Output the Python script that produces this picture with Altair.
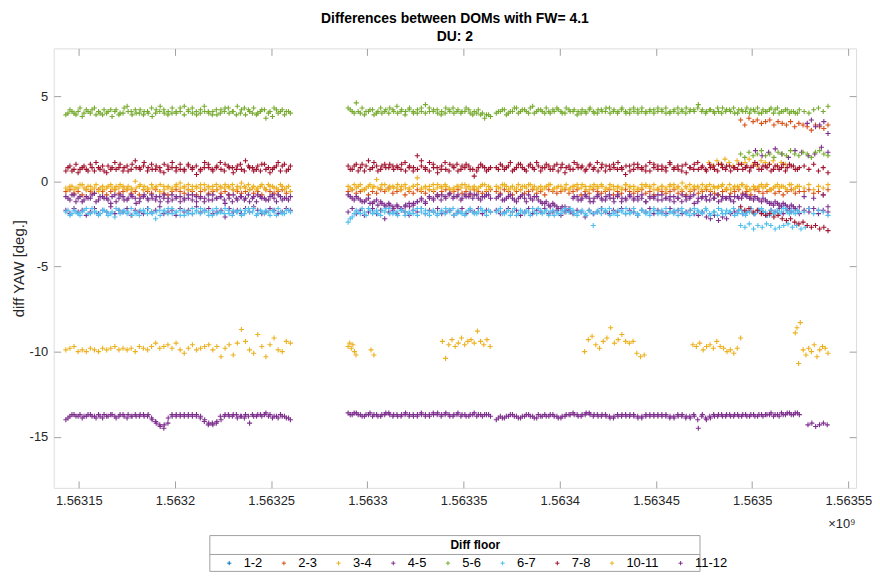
import altair as alt
import numpy as np
import pandas as pd

# ---------------- categories / colours ----------------
SERIES = ["1-2", "2-3", "3-4", "4-5", "5-6", "6-7", "7-8", "10-11", "11-12"]
COLORS = ["#0072BD", "#D95319", "#EDB120", "#7E2F8E", "#77AC30",
          "#4DBEEE", "#A2142F", "#EDB120", "#7E2F8E"]

X_TICKS = [1.56315, 1.5632, 1.56325, 1.5633, 1.56335, 1.5634, 1.56345, 1.5635, 1.56355]
Y_TICKS = [-15, -10, -5, 0, 5]

# ---------------- time segments (units of 1e9 s) ----------------
SEG_A = (1.5631433, 1.5632600)
SEG_B = (1.5632900, 1.5633640)
SEG_C = (1.5633670, 1.5635245)
SEG_D = (1.5635270, 1.5635394)
SEG_END = (1.5634940, 1.5635394)
# second read-out pass, interleaved between the first one
SEG_A2 = (1.5631444, 1.5632590)
SEG_B2 = (1.5632911, 1.5633630)
SEG_C2 = (1.5633681, 1.5635235)

# ---------------- 5-6 ----------------
g56_A = [3.9, 4.2, 4.0, 4.1, 3.8, 4.2, 4.0, 4.3, 4.1, 3.9, 4.0, 4.2, 4.1, 3.9, 4.0, 4.4, 4.1, 4.2, 4.0, 3.9,
         4.1, 4.3, 4.0, 4.1, 4.2, 3.9, 4.0, 4.1, 4.3, 4.4, 4.1, 4.0, 3.9, 4.2, 4.1, 4.0, 4.1, 3.9, 4.2, 4.3,
         4.0, 4.1, 4.4, 4.2, 3.9, 4.1, 4.3, 4.0, 4.2, 3.7, 4.1, 4.3, 4.0, 4.2, 4.1, 4.0]
g56_B = [4.3, 4.1, 4.6, 4.0, 3.9, 4.1, 4.2, 4.0, 4.3, 4.1, 4.0, 4.2, 4.4, 4.1, 3.9, 4.2, 4.1, 4.0, 4.3, 4.5,
         4.1, 4.2, 4.0, 4.1, 4.3, 4.1, 4.0, 4.2, 4.1, 4.3, 4.0, 4.1, 4.2, 4.0, 3.9, 3.8]
g56_C = [4.0, 4.1, 4.2, 4.0, 4.1, 4.3, 4.1, 4.2, 4.0, 4.4, 4.1, 4.2, 4.0, 4.1, 4.2, 4.3, 4.1, 4.0, 4.2, 4.1,
         3.9, 4.0, 4.1, 4.2, 4.1, 4.0, 4.2, 4.1, 4.3, 4.1, 4.0, 4.2, 4.1, 4.0, 4.3, 4.2, 4.1, 4.0, 4.1, 4.2,
         4.3, 4.1, 4.0, 4.1, 4.2, 4.0, 4.1, 4.3, 4.2, 4.1, 4.5, 4.2, 4.1, 4.2, 4.0, 4.1, 4.3, 4.2, 4.1, 4.0,
         4.2, 4.1, 4.3, 4.2, 4.1, 4.0, 4.2, 4.1, 4.3, 4.2, 4.0, 4.1, 4.2, 4.1, 4.0, 4.2]
g56_D = [4.1, 4.0, 4.2, 4.3, 4.1, 4.4]
g56_A2 = [4.0, 4.1, 3.9, 4.3, 4.0, 4.1, 4.2, 3.9, 4.0, 4.2, 4.1, 3.8, 4.2, 4.0, 4.3, 4.1, 3.9, 4.0, 4.2, 4.1,
          4.0, 3.8, 4.2, 4.4, 4.0, 4.1, 4.3, 4.0, 4.1, 3.9, 4.2, 4.3, 4.1, 4.0, 4.4, 4.1, 3.9, 4.2, 4.0, 4.1,
          4.3, 4.1, 3.9, 4.0, 4.3, 4.2, 4.0, 3.9, 4.1, 4.2, 4.0, 3.8, 4.2, 4.1, 3.9, 4.1]
g56_B2 = [4.2, 4.0, 4.1, 4.3, 4.1, 4.2, 3.9, 4.1, 4.0, 4.2, 4.3, 4.1, 4.0, 4.2, 4.1, 4.3, 4.0, 4.2, 4.1, 4.0,
          4.3, 4.1, 4.2, 3.9, 4.0, 4.2, 4.3, 4.1, 4.0, 4.1, 4.2, 3.9, 4.0, 3.9, 3.7, 3.9]
g56_C2 = [4.1, 4.2, 3.9, 4.1, 4.3, 4.0, 4.2, 4.1, 4.3, 4.0, 4.2, 4.1, 4.3, 4.0, 4.1, 4.2, 4.0, 4.3, 4.1, 4.2,
          4.1, 4.2, 4.0, 4.3, 4.0, 4.2, 4.1, 4.3, 4.0, 4.2, 4.1, 4.3, 4.0, 4.2, 4.1, 4.0, 4.3, 4.1, 4.2, 4.0,
          4.1, 4.2, 4.3, 4.0, 4.1, 4.3, 4.2, 4.0, 4.1, 4.2, 4.3, 4.1, 4.0, 4.2, 4.1, 4.3, 4.0, 4.1, 4.2, 4.3,
          4.0, 4.2, 4.1, 4.0, 4.2, 4.3, 4.0, 4.1, 4.2, 4.0, 4.3, 4.1, 4.2, 4.0, 4.1, 4.0]
g56_END = [1.6, 1.4, 1.7, 1.5, 1.6, 1.8, 1.5, 1.6, 1.4, 1.7, 1.6, 1.5, 1.8, 1.6, 1.5, 1.7, 1.6, 1.4, 1.7, 1.8,
           1.6, 1.5]

# ---------------- 7-8 ----------------
r78_A = [0.6, 0.9, 0.7, 0.5, 0.8, 0.7, 1.0, 0.6, 0.8, 0.9, 0.5, 0.7, 1.1, 0.8, 0.6, 0.9, 0.7, 1.2, 0.8, 0.9,
         0.6, 1.0, 0.7, 0.8, 0.5, 0.9, 0.8, 0.6, 1.0, 0.7, 0.9, 0.8, 0.4, 0.7, 1.1, 0.8, 0.6, 0.9, 0.7, 1.0,
         0.8, 0.5, 0.9, 0.7, 1.2, 0.8, 0.6, 0.9, 1.0, 0.7, 0.5, 0.8, 1.1, 0.9, 0.6, 0.9]
r78_B = [0.9, 0.7, 1.0, 0.8, 0.6, 1.2, 0.8, 0.9, 0.7, 1.0, 0.8, 0.9, 0.9, 0.7, 1.1, 0.8, 0.6, 1.5, 0.9, 0.7,
         1.1, 0.8, 0.5, 0.9, 0.7, 1.0, 0.8, 0.6, 0.9, 1.0, 0.7, 0.3, 0.8, 0.9, 0.6, 0.8]
r78_C = [0.8, 1.0, 0.7, 0.9, 0.6, 0.8, 1.0, 0.7, 0.9, 0.8, 1.1, 0.6, 0.8, 0.9, 0.7, 1.0, 0.8, 0.5, 0.9, 0.7,
         1.0, 0.8, 0.6, 0.9, 0.7, 1.1, 0.8, 0.6, 0.9, 1.0, 0.7, 0.8, 0.4, 0.9, 0.7, 1.0, 0.8, 0.6, 1.1, 0.8,
         0.7, 0.9, 0.6, 1.0, 0.8, 0.7, 0.9, 0.5, 0.8, 1.0, 0.7, 0.9, 0.6, 0.8, 0.7, 1.0, 0.8, 0.9, 0.6, 0.8,
         1.0, 0.7, 0.9, 0.8, 1.1, 0.7, 0.9, 0.8, 0.6, 0.9, 0.7, 1.0, 0.8, 0.9, 0.7, 0.8]
r78_D = [0.9, 0.7, 1.0, 0.6, 0.8, 0.5]
r78_A2 = [0.8, 0.6, 1.0, 0.7, 0.9, 0.6, 0.8, 1.1, 0.7, 0.6, 0.9, 0.8, 0.7, 1.0, 0.8, 0.6, 1.0, 0.8, 0.7, 1.1,
          0.8, 0.7, 0.9, 0.6, 1.0, 0.7, 1.1, 0.8, 0.7, 0.6, 1.0, 0.7, 0.9, 0.6, 0.8, 1.0, 0.7, 0.8, 1.1, 0.6,
          0.9, 0.8, 0.7, 1.0, 0.6, 0.9, 0.8, 0.7, 0.6, 1.0, 0.8, 0.7, 0.9, 0.6, 1.0, 0.7]
r78_B2 = [0.7, 0.9, 0.6, 1.0, 0.9, 0.7, 1.1, 0.6, 0.9, 0.8, 1.0, 0.7, 0.8, 1.0, 0.6, 0.9, 0.8, 0.7, 1.2, 0.8,
          0.6, 1.0, 0.8, 0.7, 1.1, 0.6, 0.9, 1.0, 0.7, 0.8, 0.9, 0.7, 0.6, 1.0, 0.8, 0.7]
r78_C2 = [0.7, 0.9, 0.8, 1.1, 0.7, 1.0, 0.8, 0.6, 1.0, 0.7, 0.9, 0.8, 1.0, 0.7, 0.9, 0.6, 1.0, 0.8, 0.7, 1.1,
          0.8, 0.9, 0.7, 1.0, 0.8, 0.6, 1.0, 0.9, 0.7, 0.8, 1.1, 0.7, 0.9, 0.6, 1.0, 0.8, 0.7, 0.9, 0.6, 1.0,
          0.9, 0.7, 0.8, 1.1, 0.7, 0.9, 0.6, 1.0, 0.8, 0.7, 1.1, 0.8, 0.7, 1.0, 0.9, 0.6, 1.0, 0.7, 0.9, 0.8,
          0.7, 1.0, 0.8, 0.6, 0.9, 1.0, 0.7, 0.9, 1.0, 0.7, 0.9, 0.8, 0.6, 1.0, 0.9, 0.7]
r78_END = [-1.5, -1.7, -1.6, -1.8, -1.7, -1.9, -2.0, -1.9, -2.1, -2.0, -2.2, -2.3, -2.2, -2.4, -2.5, -2.4,
           -2.6, -2.7, -2.6, -2.8, -2.7, -2.9]

# ---------------- 3-4 ----------------
y34_A = [-0.4, -0.3, -0.5, -0.4, -0.2, -0.5, -0.3, -0.4, -0.6, -0.3, -0.4, -0.2, -0.5, -0.4, -0.3, -0.5,
         -0.4, 0.0, -0.3, -0.5, -0.4, -0.2, -0.4, -0.6, -0.3, -0.4, -0.5, -0.3, -0.1, -0.4, -0.5, -0.3,
         -0.4, -0.2, -0.5, -0.4, -0.3, -0.5, -0.4, -0.2, -0.4, -0.5, -0.3, -0.1, -0.4, -0.5, -0.3, -0.4,
         -0.2, -0.5, -0.3, -0.4, -0.5, -0.3, -0.4, -0.6]
y34_B = [-0.3, -0.5, -0.4, -0.2, -0.5, -0.3, -0.4, 0.1, -0.4, -0.2, -0.5, -0.3, -0.4, -0.5, -0.2, -0.4,
         -0.3, 0.2, -0.5, -0.4, -0.3, -0.5, -0.2, -0.4, -0.3, -0.5, -0.4, -0.3, -0.2, -0.4, -0.5, -0.3,
         -0.4, -0.2, -0.5, -0.4]
y34_C = [-0.3, -0.4, -0.2, -0.5, -0.3, -0.4, -0.5, -0.3, -0.2, -0.4, -0.5, -0.3, -0.4, -0.2, -0.5, -0.4,
         -0.3, -0.4, -0.5, -0.3, -0.2, -0.4, -0.3, -0.5, -0.4, -0.3, -0.2, -0.5, -0.4, -0.3, -0.4, -0.5,
         -0.2, -0.4, -0.3, -0.5, -0.4, -0.2, -0.3, -0.5, -0.4, -0.3, -0.5, -0.2, -0.4, -0.3, -0.1, -0.4,
         -0.5, -0.3, -0.4, -0.2, -0.3, -0.5, -0.4, -0.3, -0.2, -0.4, -0.5, -0.3, -0.4, -0.2, -0.3, -0.5,
         -0.4, -0.3, -0.4, -0.2, -0.5, -0.3, -0.4, -0.3, -0.5, -0.2, -0.4, -0.3]
y34_D = [-0.4, -0.2, -0.5, -0.3, -0.4, -0.2]
y34_A2 = [-0.5, -0.3, -0.4, -0.2, -0.4, -0.3, -0.5, -0.2, -0.4, -0.5, -0.3, -0.4, -0.3, -0.2, -0.4, -0.3,
          -0.5, -0.4, -0.2, -0.3, -0.5, -0.4, -0.3, -0.2, -0.5, -0.3, -0.4, -0.2, -0.4, -0.3, -0.2, -0.5,
          -0.3, -0.4, -0.2, -0.3, -0.5, -0.2, -0.3, -0.4, -0.3, -0.2, -0.5, -0.4, -0.3, -0.2, -0.4, -0.5,
          -0.3, -0.4, -0.2, -0.3, -0.4, -0.2, -0.5, -0.3]
y34_B2 = [-0.4, -0.2, -0.3, -0.5, -0.4, -0.2, -0.3, -0.4, -0.2, -0.5, -0.3, -0.4, -0.2, -0.3, -0.4, -0.5,
          -0.3, -0.2, -0.4, -0.3, -0.5, -0.2, -0.4, -0.3, -0.2, -0.4, -0.5, -0.3, -0.4, -0.2, -0.3, -0.4,
          -0.5, -0.3, -0.2, -0.3]
y34_C2 = [-0.4, -0.2, -0.3, -0.4, -0.5, -0.2, -0.3, -0.4, -0.2, -0.3, -0.4, -0.5, -0.3, -0.2, -0.4, -0.3,
          -0.5, -0.2, -0.4, -0.3, -0.4, -0.2, -0.5, -0.3, -0.2, -0.4, -0.3, -0.4, -0.2, -0.5, -0.3, -0.4,
          -0.2, -0.3, -0.5, -0.4, -0.2, -0.3, -0.4, -0.2, -0.5, -0.3, -0.4, -0.3, -0.2, -0.4, -0.5, -0.3,
          -0.2, -0.4, -0.3, -0.5, -0.4, -0.2, -0.3, -0.4, -0.3, -0.5, -0.2, -0.4, -0.3, -0.2, -0.4, -0.5,
          -0.3, -0.4, -0.2, -0.3, -0.5, -0.4, -0.2, -0.3, -0.4, -0.2, -0.5, -0.3]
y34_UP = [1.1, 0.9, 1.2, 1.0, 1.3, 1.1, 0.9, 1.2, 1.0, 1.1, 1.3, 1.0, 0.9, 1.2, 1.1, 1.0, 1.2, 0.9, 1.1, 1.0]

# ---------------- 2-3 ----------------
o23_A = [-0.6, -0.5, -0.7, -0.6, -0.8, -0.5, -0.6, -0.7, -0.5, -0.6, -0.8, -0.6, -0.5, -0.7, -0.6, -0.5,
         -0.7, -0.6, -0.8, -0.5, -0.6, -0.7, -0.5, -0.6, -0.7, -0.8, -0.6, -0.5, -0.6, -0.7, -0.5, -0.6,
         -0.8, -0.6, -0.5, -0.7, -0.6, -0.5, -0.7, -0.6, -0.8, -0.5, -0.6, -0.7, -0.6, -0.5, -0.7, -0.6,
         -0.8, -0.5, -0.6, -0.7, -0.6, -0.5, -0.7, -0.6]
o23_B = [-0.6, -0.5, -0.7, -0.6, -0.5, -0.8, -0.6, -0.7, -0.5, -0.6, -0.4, -0.7, -0.6, -0.5, -0.8, -0.6,
         -0.7, -0.5, -0.6, -0.7, -0.5, -0.6, -0.8, -0.6, -0.5, -0.7, -0.6, -0.5, -0.7, -0.6, -0.8, -0.5,
         -0.6, -0.7, -0.6, -0.5]
o23_C = [-0.6, -0.7, -0.5, -0.6, -0.8, -0.6, -0.5, -0.7, -0.6, -0.5, -0.7, -0.6, -0.8, -0.5, -0.6, -0.7,
         -0.6, -0.5, -0.7, -0.6, -0.5, -0.8, -0.6, -0.7, -0.5, -0.6, -0.7, -0.6, -0.5, -0.8, -0.6, -0.7,
         -0.5, -0.6, -0.7, -0.6, -0.5, -0.7, -0.6, -0.8, -0.5, -0.6, -0.7, -0.6, -0.5, -0.7, -0.6, -0.8,
         -0.6, -0.5, -0.7, -0.6, -0.5, -0.6, -0.7, -0.8, -0.6, -0.5, -0.7, -0.6, -0.5, -0.7, -0.6, -0.8,
         -0.5, -0.6, -0.7, -0.6, -0.5, -0.7, -0.6, -0.8, -0.6, -0.5, -0.7, -0.6]
o23_D = [-0.6, -0.5, -0.7, -0.6, -0.8, -0.5]
o23_END = [3.6, 3.3, 3.7, 3.5, 3.6, 3.4, 3.5, 3.6, 3.3, 3.5, 3.4, 3.3, 3.5, 3.2, 3.4, 3.3, 3.2, 3.0, 3.3,
           3.2, 3.1, 3.3]

# ---------------- 4-5 (two bands) ----------------
p45_A = [-0.9, -1.1, -0.8, -1.0, -1.2, -0.9, -1.0, -0.7, -1.1, -0.9, -1.0, -1.3, -0.8, -1.0, -0.9, -1.1,
         -0.8, -1.0, -1.2, -0.9, -1.0, -0.8, -1.1, -0.9, -1.0, -1.2, -0.8, -1.0, -0.9, -1.1, -1.0, -0.8,
         -1.2, -0.9, -1.0, -1.1, -0.8, -1.0, -0.9, -1.3, -1.0, -0.8, -1.1, -0.9, -1.0, -1.2, -0.9, -0.8,
         -1.0, -1.1, -0.9, -1.0, -0.8, -1.1, -1.0, -0.9]
p45_B = [-0.8, -1.0, -0.9, -1.1, -1.2, -1.0, -1.3, -1.1, -1.2, -1.4, -1.3, -1.5, -1.4, -1.6, -1.5, -1.3,
         -1.4, -1.2, -1.1, -1.3, -1.0, -1.1, -0.9, -0.8, -1.0, -0.7, -0.9, -0.8, -1.0, -0.9, -0.7, -0.8,
         -1.0, -0.9, -0.8, -1.0]
p45_C = [-1.0, -0.8, -1.1, -0.9, -1.0, -1.2, -0.9, -1.0, -0.8, -1.1, -0.9, -1.2, -1.3, -1.4, -1.3, -1.5,
         -1.6, -1.5, -1.7, -1.0, -0.9, -1.1, -0.8, -1.0, -1.2, -0.9, -1.0, -1.1, -0.8, -1.0, -0.9, -1.2,
         -1.0, -0.8, -1.1, -0.9, -1.0, -1.2, -0.9, -1.0, -0.8, -1.1, -1.0, -0.9, -1.2, -1.0, -0.8, -1.1,
         -0.9, -1.3, -1.0, -0.9, -1.1, -0.8, -1.0, -1.2, -0.9, -1.0, -1.1, -0.9, -1.0, -0.8, -0.9, -1.0,
         -0.9, -1.1, -1.0, -1.2, -1.3, -1.2, -1.4, -1.3, -1.5, -1.4, -1.6, -1.5]
p45_D = [-0.9, -1.6, -1.0, -1.7, -0.8, -1.5]
p45_A2 = [-1.0, -0.8, -1.2, -0.9, -1.1, -1.0, -0.8, -1.2, -0.9, -1.0, -1.1, -0.9, -1.2, -0.8, -1.1, -1.0,
          -0.9, -1.3, -1.0, -0.8, -1.1, -1.0, -0.9, -1.2, -0.8, -1.0, -1.1, -0.9, -1.2, -1.0, -0.8, -1.1,
          -0.9, -1.0, -1.2, -0.8, -1.1, -1.0, -0.9, -1.1, -0.8, -1.2, -1.0, -0.9, -1.1, -0.8, -1.0, -1.2,
          -0.9, -1.0, -1.1, -0.8, -1.2, -0.9, -1.0, -1.1]
p45_B2 = [-0.9, -1.1, -1.0, -1.2, -1.1, -1.3, -1.2, -1.4, -1.3, -1.5, -1.4, -1.6, -1.5, -1.7, -1.4, -1.5,
          -1.3, -1.2, -1.0, -1.2, -0.9, -1.0, -0.8, -1.1, -0.9, -0.8, -1.0, -0.9, -1.1, -0.8, -0.9, -1.0,
          -0.8, -1.1, -0.9, -0.8]
p45_C2 = [-0.9, -1.1, -1.0, -0.8, -1.1, -1.0, -0.8, -1.2, -1.0, -0.9, -1.1, -1.3, -1.2, -1.5, -1.4, -1.6,
          -1.5, -1.7, -1.8, -0.9, -1.1, -1.0, -0.9, -1.2, -1.0, -0.8, -1.1, -0.9, -1.0, -1.2, -0.8, -1.0,
          -1.1, -0.9, -1.0, -1.1, -0.8, -1.2, -1.0, -0.9, -1.1, -0.8, -1.0, -1.1, -0.9, -1.0, -1.2, -0.9,
          -1.0, -0.8, -1.2, -1.0, -0.9, -1.1, -1.0, -0.8, -1.1, -1.0, -0.9, -1.2, -0.9, -1.0, -0.8, -1.0,
          -1.1, -1.0, -1.2, -1.1, -1.3, -1.4, -1.3, -1.5, -1.4, -1.6, -1.5, -1.7]
p45b_A = [-1.7, -1.9, -1.6, -1.8, -1.7, -2.0, -1.8, -1.6, -1.9, -1.7, -1.8, -1.5, -1.9, -1.7, -1.8, -1.6,
          -2.0, -1.7, -1.8, -1.9, -1.6, -1.8, -1.7, -1.5, -1.9, -1.8, -1.7, -2.0, -1.6, -1.8, -1.7, -1.9,
          -1.5, -1.8, -1.7, -1.6, -1.9, -1.8, -1.7, -2.1, -1.6, -1.8, -1.7, -1.9, -1.6, -1.8, -1.5, -1.7,
          -1.9, -1.8, -1.6, -1.7, -1.9, -1.8, -1.6, -1.7]
p45b_B = [-1.8, -1.6, -1.9, -1.7, -2.0, -1.8, -1.6, -1.9, -1.7, -2.2, -1.8, -1.7, -1.9, -1.6, -1.8, -2.0,
          -1.7, -1.8, -1.6, -1.9, -1.7, -1.8, -1.6, -1.9, -1.8, -1.7, -2.0, -1.8, -1.6, -1.9, -1.7, -1.8,
          -1.6, -1.9, -1.7, -1.8]
p45b_C = [-1.7, -1.9, -1.8, -1.6, -1.8, -1.7, -2.0, -1.8, -1.6, -1.9, -1.7, -1.8, -1.6, -1.9, -1.8, -1.7,
          -2.0, -1.8, -1.6, -1.9, -1.7, -1.8, -2.1, -1.7, -1.9, -1.8, -1.6, -1.8, -1.9, -1.7, -1.8, -1.6,
          -1.9, -1.7, -1.8, -2.0, -1.7, -1.8, -1.6, -1.9, -1.7, -1.8, -1.9, -1.6, -1.8, -1.7, -1.9, -1.8,
          -1.7, -1.9, -2.0, -1.8, -2.1, -2.2, -2.0, -2.3, -2.1, -2.2, -1.9, -1.8, -1.7, -1.9, -1.8, -1.6,
          -1.9, -1.7, -1.8, -2.0, -1.7, -1.8, -1.6, -1.9, -1.7, -1.8, -1.6, -1.9]
p45b_D = [-1.7, -1.8, -1.6, -1.9, -1.7, -1.8]
p45_UP = [1.8, 1.5, 1.7, 1.9, 1.6, 1.4, 1.8, 1.7, 1.5, 1.6, 2.0, 1.7]
p45_HIGH = [3.4, 3.6, 3.2, 3.3, 3.5, 2.8]

# ---------------- 6-7 ----------------
c67_A = [-1.8, -2.0, -1.7, -1.9, -1.8, -1.6, -1.9, -1.8, -2.0, -1.7, -1.8, -1.9, -2.1, -1.7, -1.8, -1.9,
         -1.6, -1.8, -2.0, -1.7, -1.9, -1.8, -2.2, -1.7, -1.8, -1.9, -1.6, -1.8, -1.7, -2.0, -1.8, -1.9,
         -1.7, -1.6, -1.8, -2.0, -1.7, -1.9, -1.8, -1.6, -1.9, -1.7, -1.8, -2.0, -1.7, -1.8, -1.6, -1.9,
         -1.8, -1.7, -2.0, -1.8, -1.6, -1.9, -1.7, -1.8]
c67_B = [-2.4, -2.1, -1.7, -1.9, -1.8, -1.6, -1.9, -1.7, -2.0, -1.8, -1.6, -1.9, -1.8, -1.7, -2.0, -1.8,
         -1.9, -1.6, -1.8, -1.7, -2.0, -1.8, -1.9, -1.7, -1.6, -1.8, -2.0, -1.7, -1.9, -1.8, -1.6, -1.9,
         -1.8, -1.7, -2.0, -1.8]
c67_C = [-1.8, -1.6, -1.9, -1.7, -1.8, -2.0, -1.7, -1.9, -1.8, -1.6, -1.9, -1.7, -1.8, -2.0, -1.7, -1.8,
         -1.9, -1.6, -1.8, -1.7, -2.0, -1.8, -1.9, -1.7, -2.6, -1.8, -1.9, -1.7, -1.6, -1.8, -2.0, -1.7,
         -1.9, -1.8, -1.6, -1.9, -1.7, -1.8, -2.0, -1.7, -1.8, -1.9, -1.6, -1.8, -1.7, -2.0, -1.8, -1.9,
         -1.7, -1.6, -1.8, -1.9, -1.7, -2.0, -1.8, -1.6, -1.9, -1.7, -1.8, -2.0, -1.7, -1.9, -1.8, -1.6,
         -1.9, -1.7, -1.8, -2.0, -1.7, -1.8, -1.9, -1.6, -1.8, -1.7, -1.9, -1.8]
c67_D = [-1.8, -1.6, -1.9, -1.7, -1.8, -2.0]
c67_A2 = [-1.7, -1.9, -1.8, -2.0, -1.7, -1.9, -1.6, -1.8, -1.9, -1.7, -2.0, -1.8, -1.6, -1.9, -1.7, -1.8,
          -2.0, -1.9, -1.7, -1.8, -1.6, -1.9, -1.8, -2.0, -1.7, -1.6, -1.9, -1.8, -2.0, -1.7, -1.9, -1.6,
          -1.8, -1.9, -1.7, -1.8, -2.0, -1.6, -1.8, -1.9, -1.7, -2.0, -1.8, -1.7, -1.9, -1.6, -1.8, -2.0,
          -1.7, -1.9, -1.8, -1.7, -2.0, -1.8, -1.9, -1.7]
c67_B2 = [-2.2, -1.9, -1.8, -1.6, -2.0, -1.7, -1.8, -1.9, -1.7, -1.6, -1.9, -1.8, -2.0, -1.7, -1.8, -1.9,
          -1.7, -2.0, -1.6, -1.9, -1.8, -1.7, -2.0, -1.8, -1.9, -1.7, -1.6, -1.9, -1.8, -2.0, -1.7, -1.8,
          -1.9, -1.6, -1.8, -1.7]
c67_C2 = [-1.7, -1.9, -1.8, -2.0, -1.6, -1.9, -1.8, -1.7, -2.0, -1.8, -1.6, -1.9, -1.7, -1.8, -2.0, -1.9,
          -1.7, -1.8, -1.6, -1.9, -1.8, -1.7, -2.0, -1.8, -1.9, -1.7, -1.6, -1.8, -2.0, -1.9, -1.7, -1.8,
          -1.6, -1.9, -1.8, -2.0, -1.7, -1.9, -1.8, -1.6, -1.9, -1.7, -2.0, -1.8, -1.9, -1.7, -1.6, -1.8,
          -2.0, -1.9, -1.7, -1.8, -1.6, -1.9, -1.8, -2.0, -1.7, -1.9, -1.8, -1.6, -1.9, -1.7, -2.0, -1.8,
          -1.9, -1.7, -1.6, -1.8, -2.0, -1.9, -1.7, -1.8, -1.6, -1.9, -1.8, -1.7]
c67_LOW = [-2.6, -2.7, -2.5, -2.8, -2.6, -2.7, -2.5, -2.6, -2.8, -2.7, -2.6, -2.5, -2.7, -2.6, -2.8, -2.7]

# ---------------- 10-11 ----------------
y1011_A = [-9.9, -9.8, -9.7, -10.0, -9.9, -10.0, -9.8, -9.9, -10.0, -9.8, -9.9, -9.8, -9.7, -9.9, -9.8,
           -9.9, -9.8, -10.0, -9.7, -9.8, -9.9, -9.7, -9.5, -9.8, -9.7, -9.6, -9.8, -9.5, -9.9, -10.1,
           -9.8, -9.6, -9.9, -9.8, -9.7, -9.6, -9.9, -9.7, -10.3, -9.8, -9.6, -10.2, -9.5, -8.7, -9.4,
           -9.9, -10.1, -9.0, -9.7, -10.3, -9.6, -9.2, -9.9, -10.0, -9.4, -9.5]
y1011_K1 = [-9.7, -9.5, -9.8, -9.6, -10.0, -10.2]
y1011_K2 = [-9.9, -10.2]
y1011_K3 = [-9.4, -10.4, -9.6, -9.3, -9.7, -9.5, -9.2, -9.6, -9.4, -9.3, -9.5, -8.8, -9.4, -9.6, -9.3, -9.7]
y1011_K4 = [-10.0, -9.3, -9.1, -9.6, -9.8, -9.4, -9.2, -8.6, -9.5, -9.3, -9.0, -9.4, -9.5, -9.4, -10.1,
            -10.3, -10.2]
y1011_K5 = [-9.6, -9.7, -9.5, -9.9, -9.7, -9.6, -9.8, -9.4, -9.7, -9.8, -10.0, -9.9, -10.1, -9.8, -9.2]
y1011_K6 = [-8.9, -8.6, -10.7, -8.3]
y1011_K7 = [-9.9, -10.2, -9.8, -10.0, -9.6, -10.3, -9.9, -9.7, -9.8, -10.1]

# ---------------- 11-12 ----------------
p1112_A = [-14.0, -13.8, -13.7, -13.8, -13.9, -13.8, -13.7, -13.8, -13.7, -13.9, -13.8, -13.7, -13.8,
           -13.8, -13.7, -13.9, -13.8, -13.7, -13.8, -13.7, -13.8, -13.9, -14.1, -14.3, -14.5, -14.2,
           -13.7, -13.8, -13.7, -13.8, -13.7, -13.8, -13.7, -13.8, -14.0, -14.2, -14.3, -14.1, -14.0,
           -13.7, -13.8, -13.7, -13.9, -13.8, -13.7, -14.2, -13.8, -13.7, -13.8, -13.6, -13.7, -13.8,
           -13.9, -13.8, -13.9, -14.0]
p1112_B = [-13.6, -13.7, -13.6, -13.7, -13.8, -13.7, -13.8, -13.7, -13.8, -13.7, -13.6, -13.8, -13.7,
           -13.8, -13.7, -13.8, -13.7, -13.8, -13.6, -13.7, -13.8, -13.7, -13.6, -13.7, -13.6, -13.8,
           -13.7, -13.6, -13.7, -13.8, -13.7, -13.6, -13.7, -13.8, -13.7, -13.8]
p1112_C = [-14.0, -13.8, -13.9, -13.8, -13.7, -13.8, -13.9, -13.8, -13.7, -13.8, -13.9, -13.8, -13.7,
           -13.8, -13.7, -13.8, -13.9, -13.8, -13.7, -13.6, -13.7, -13.8, -13.7, -13.6, -13.8, -13.7,
           -13.8, -13.7, -13.8, -13.9, -13.7, -13.8, -13.7, -13.8, -13.7, -13.8, -13.9, -13.8, -13.7,
           -13.8, -13.7, -13.8, -13.7, -13.8, -13.9, -13.8, -13.7, -13.8, -13.9, -13.8, -14.5, -13.7,
           -14.0, -13.9, -13.8, -13.7, -13.8, -13.7, -13.8, -13.7, -13.8, -13.7, -13.8, -13.7, -13.8,
           -13.7, -13.8, -13.7, -13.6, -13.7, -13.8, -13.7, -13.6, -13.7, -13.6, -13.7]
p1112_D = [-14.3, -14.2, -14.4, -14.3, -14.2, -14.3]
p1112_A2 = [-13.9, -13.7, -13.8, -13.7, -13.8, -13.7, -13.8, -13.9, -13.8, -13.7, -13.8, -13.7, -13.9,
            -13.7, -13.8, -13.7, -13.8, -13.8, -13.7, -13.8, -13.7, -14.0, -14.2, -14.4, -14.3, -13.9,
            -13.8, -13.7, -13.8, -13.7, -13.8, -13.7, -13.8, -13.9, -14.1, -14.3, -14.2, -14.2, -13.8,
            -13.8, -13.7, -13.8, -13.7, -13.8, -13.9, -13.8, -13.7, -13.8, -13.7, -13.7, -13.8, -13.9,
            -13.8, -13.7, -13.8, -13.9]
p1112_B2 = [-13.7, -13.6, -13.7, -13.8, -13.7, -13.6, -13.7, -13.8, -13.7, -13.6, -13.7, -13.7, -13.8,
            -13.7, -13.6, -13.7, -13.8, -13.7, -13.7, -13.8, -13.7, -13.6, -13.7, -13.8, -13.7, -13.7,
            -13.8, -13.7, -13.8, -13.7, -13.8, -13.7, -13.8, -13.7, -13.7, -13.7]
p1112_C2 = [-13.9, -13.9, -13.8, -13.7, -13.8, -13.9, -13.8, -13.7, -13.8, -13.9, -13.7, -13.8, -13.8,
            -13.7, -13.8, -13.9, -13.8, -13.7, -13.7, -13.7, -13.8, -13.7, -13.6, -13.7, -13.7, -13.8,
            -13.7, -13.8, -13.9, -13.8, -13.8, -13.7, -13.8, -13.7, -13.8, -13.9, -13.8, -13.7, -13.8,
            -13.7, -13.8, -13.7, -13.8, -13.9, -13.8, -13.7, -13.8, -13.9, -13.8, -13.7, -14.0, -13.8,
            -13.9, -13.8, -13.7, -13.8, -13.7, -13.8, -13.7, -13.8, -13.7, -13.8, -13.7, -13.8, -13.7,
            -13.8, -13.7, -13.7, -13.7, -13.8, -13.7, -13.6, -13.7, -13.6, -13.7, -13.6]

# ---------------- assemble ----------------
bands = [
    ("2-3", SEG_A, o23_A), ("2-3", SEG_B, o23_B), ("2-3", SEG_C, o23_C), ("2-3", SEG_D, o23_D),
    ("2-3", SEG_END, o23_END),
    ("3-4", SEG_A, y34_A), ("3-4", SEG_B, y34_B), ("3-4", SEG_C, y34_C), ("3-4", SEG_D, y34_D),
    ("3-4", SEG_A2, y34_A2), ("3-4", SEG_B2, y34_B2), ("3-4", SEG_C2, y34_C2),
    ("3-4", (1.5634775, 1.5635172), y34_UP),
    ("4-5", SEG_A, p45_A), ("4-5", SEG_B, p45_B), ("4-5", SEG_C, p45_C), ("4-5", SEG_D, p45_D),
    ("4-5", SEG_A2, p45_A2), ("4-5", SEG_B2, p45_B2), ("4-5", SEG_C2, p45_C2),
    ("4-5", SEG_A, p45b_A), ("4-5", SEG_B, p45b_B), ("4-5", SEG_C, p45b_C), ("4-5", SEG_D, p45b_D),
    ("4-5", (1.5635017, 1.5635394), p45_UP), ("4-5", (1.5635286, 1.5635394), p45_HIGH),
    ("5-6", SEG_A, g56_A), ("5-6", SEG_B, g56_B), ("5-6", SEG_C, g56_C), ("5-6", SEG_D, g56_D),
    ("5-6", SEG_A2, g56_A2), ("5-6", SEG_B2, g56_B2), ("5-6", SEG_C2, g56_C2),
    ("5-6", SEG_END, g56_END),
    ("6-7", SEG_A, c67_A), ("6-7", SEG_B, c67_B), ("6-7", SEG_C, c67_C), ("6-7", SEG_D, c67_D),
    ("6-7", SEG_A2, c67_A2), ("6-7", SEG_B2, c67_B2), ("6-7", SEG_C2, c67_C2),
    ("6-7", (1.5634940, 1.5635276), c67_LOW),
    ("7-8", SEG_A, r78_A), ("7-8", SEG_B, r78_B), ("7-8", SEG_C, r78_C), ("7-8", SEG_D, r78_D),
    ("7-8", SEG_A2, r78_A2), ("7-8", SEG_B2, r78_B2), ("7-8", SEG_C2, r78_C2),
    ("7-8", SEG_END, r78_END),
    ("10-11", SEG_A, y1011_A), ("10-11", (1.5632900, 1.5632941), y1011_K1),
    ("10-11", (1.5633019, 1.5633034), y1011_K2), ("10-11", (1.5633390, 1.5633638), y1011_K3),
    ("10-11", (1.5634129, 1.5634439), y1011_K4), ("10-11", (1.5634692, 1.5634940), y1011_K5),
    ("10-11", (1.5635224, 1.5635250), y1011_K6), ("10-11", (1.5635265, 1.5635394), y1011_K7),
    ("11-12", SEG_A, p1112_A), ("11-12", SEG_B, p1112_B), ("11-12", SEG_C, p1112_C),
    ("11-12", SEG_A2, p1112_A2), ("11-12", SEG_B2, p1112_B2), ("11-12", SEG_C2, p1112_C2),
    ("11-12", (1.5635290, 1.5635390), p1112_D),
]

rows = []
for name, (t0, t1), vals in bands:
    ts = np.linspace(t0, t1, len(vals))
    for t, v in zip(ts, vals):
        rows.append({"t": float(t), "v": v, "series": name, "order": SERIES.index(name)})
df = pd.DataFrame(rows).sort_values("order", kind="stable").reset_index(drop=True)

CROSS = "M-1,0H1M0,-1V1"
FONT = "Liberation Sans"
AX = "#a0a0a0"
X_DOM = [1.563137, 1.563554]
Y_DOM = [-18, 7.8]

xs = alt.Scale(domain=X_DOM, nice=False, zero=False)
ys = alt.Scale(domain=Y_DOM, nice=False, zero=False)

points = alt.Chart(df).mark_point(shape=CROSS, filled=False, size=26, strokeWidth=1.1, opacity=1).encode(
    x=alt.X("t:Q", scale=xs, axis=alt.Axis(
        values=X_TICKS, labelExpr="format(datum.value, '.6~g')", orient="bottom",
        offset=-7, tickSize=7, domain=False, grid=False, tickColor=AX, labelPadding=7,
        labelFontSize=13, labelFont=FONT, labelColor="#262626",
        title="\u00d710\u2079", titleFont=FONT, titleFontSize=13, titleFontWeight="normal",
        titleColor="#262626", titleAlign="right", titleAnchor="end", titleX=806, titleY=43,
        titleBaseline="middle")),
    y=alt.Y("v:Q", scale=ys, axis=alt.Axis(
        values=Y_TICKS, labelExpr="'' + datum.value", orient="left",
        offset=-7, tickSize=7, domain=False, grid=False, tickColor=AX, labelPadding=6,
        labelFontSize=13, labelFont=FONT, labelColor="#262626",
        title="diff YAW [deg.]", titleFont=FONT, titleFontSize=15, titleFontWeight="normal",
        titleColor="#262626", titlePadding=3)),
    color=alt.Color("series:N", scale=alt.Scale(domain=SERIES, range=COLORS), legend=alt.Legend(
        title="Diff floor", orient="none", legendX=170, legendY=494, direction="horizontal",
        columns=9, titleAnchor="middle", titleFont=FONT, titleFontSize=12, titleFontWeight="bold",
        titleColor="black", titlePadding=5, labelFont=FONT, labelFontSize=13, labelColor="black",
        symbolType=CROSS, symbolSize=18, symbolStrokeWidth=1, labelOffset=8, columnPadding=15,
        padding=0)),
    order=alt.Order("order:Q"),
)

frame = pd.DataFrame({"t": X_DOM, "v": Y_DOM})
ticks2 = alt.Chart(frame).mark_point(opacity=0).encode(
    x=alt.X("t:Q", scale=xs, axis=alt.Axis(
        values=X_TICKS, orient="top", offset=-7, tickSize=7, domain=False, grid=False,
        labels=False, tickColor=AX, title="")),
    y=alt.Y("v:Q", scale=ys, axis=alt.Axis(
        values=Y_TICKS, orient="right", offset=-7, tickSize=7, domain=False, grid=False,
        labels=False, tickColor=AX, title="")),
)

one = pd.DataFrame({"k": [0]})
legend_box = alt.Chart(one).mark_rect(fill="white", fillOpacity=0, stroke=AX, strokeWidth=1).encode(
    x=alt.value(157), x2=alt.value(650), y=alt.value(490), y2=alt.value(526))
legend_sep = alt.Chart(one).mark_rule(stroke=AX, strokeWidth=1).encode(
    x=alt.value(157), x2=alt.value(650), y=alt.value(509))

chart = alt.layer(points, ticks2, legend_box, legend_sep).resolve_axis(
    x="independent", y="independent"
).properties(
    width=807, height=442,
    padding={"left": 46, "top": 39, "right": 16, "bottom": 85},
    autosize=alt.AutoSizeParams(type="none"),
    title=alt.TitleParams(
        text=["Differences between DOMs with FW= 4.1", "DU: 2"],
        font=FONT, fontSize=14, fontWeight="bold", color="black", anchor="middle",
        lineHeight=18, offset=2),
).configure_view(stroke=AX, strokeWidth=1).configure(background="white")

chart.save("out.html", embed_options={"renderer": "svg", "actions": False})
